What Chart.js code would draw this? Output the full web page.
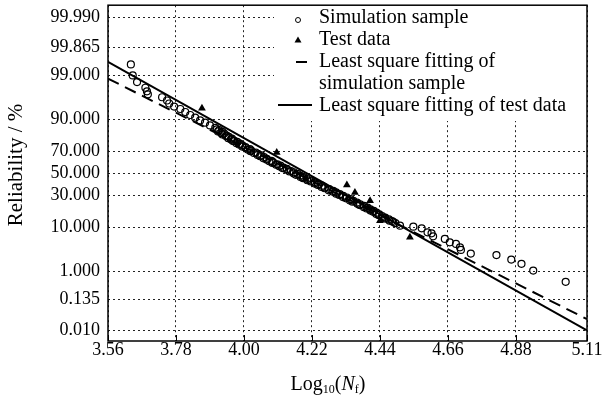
<!DOCTYPE html>
<html>
<head>
<meta charset="utf-8">
<script src="https://cdn.jsdelivr.net/npm/chart.js@4.4.1/dist/chart.umd.min.js"></script>
<style>
html, body { margin: 0; padding: 0; background: #fff; }
</style>
</head>
<body>
<canvas id="chart" width="603" height="405"></canvas>
<script>
// axis ticks
const xTicks = [3.56, 3.78, 4.00, 4.22, 4.44, 4.66, 4.88, 5.11];
const yTickLabels = ["99.990", "99.865", "99.000", "90.000", "70.000", "50.000", "30.000", "10.000", "1.000", "0.135", "0.010"];

// simulation sample: log10(Nf) and reliability as standard normal quantile (probability paper y)
const simLogN = [
    3.634, 3.640, 3.654, 3.681, 3.686, 3.689, 3.735, 3.751, 3.758, 3.774, 3.794, 3.810, 3.826, 3.842, 3.858, 3.874, 3.890, 3.907,
    3.912, 3.920, 3.916, 3.930, 3.926, 3.936, 3.930, 3.944, 3.941, 3.951,
    3.949, 3.961, 3.958, 3.968, 3.964, 3.978, 3.976, 3.987, 3.984, 3.995,
    3.994, 4.005, 4.005, 4.019, 4.012, 4.023, 4.021, 4.038, 4.032, 4.045,
    4.044, 4.056, 4.052, 4.065, 4.063, 4.074, 4.074, 4.089, 4.082, 4.094,
    4.092, 4.108, 4.104, 4.118, 4.114, 4.128, 4.124, 4.139, 4.138, 4.152,
    4.147, 4.161, 4.161, 4.173, 4.168, 4.182, 4.183, 4.194, 4.191, 4.204,
    4.205, 4.218, 4.216, 4.228, 4.229, 4.241, 4.239, 4.253, 4.251, 4.262,
    4.261, 4.276, 4.274, 4.289, 4.286, 4.298, 4.298, 4.310, 4.308, 4.321,
    4.320, 4.333, 4.330, 4.345, 4.343, 4.354, 4.351, 4.366, 4.367, 4.376,
    4.374, 4.389, 4.388, 4.400, 4.397, 4.409, 4.409, 4.420, 4.418, 4.429,
    4.428, 4.438, 4.436, 4.447, 4.448, 4.457, 4.457, 4.469, 4.471, 4.479,
    4.483, 4.490,
    4.505, 4.548, 4.575, 4.594, 4.607, 4.612, 4.650, 4.666, 4.686, 4.699, 4.702, 4.734, 4.817, 4.865, 4.898, 4.936, 5.041
];
const simZ = [
    2.592, 2.332, 2.173, 2.038, 1.953, 1.882, 1.813, 1.735, 1.664, 1.592, 1.533, 1.462, 1.391, 1.327, 1.261, 1.209, 1.142, 1.083,
    1.05, 1.03, 1.00, 0.99, 0.96, 0.95, 0.93, 0.90, 0.89, 0.87,
    0.84, 0.83, 0.81, 0.78, 0.77, 0.75, 0.72, 0.71, 0.69, 0.67,
    0.64, 0.63, 0.61, 0.58, 0.57, 0.55, 0.53, 0.50, 0.49, 0.47,
    0.44, 0.43, 0.41, 0.39, 0.36, 0.35, 0.33, 0.30, 0.29, 0.27,
    0.25, 0.22, 0.21, 0.19, 0.17, 0.14, 0.13, 0.11, 0.09, 0.06,
    0.05, 0.03, 0.00, -0.01, -0.03, -0.05, -0.08, -0.09, -0.11, -0.13,
    -0.16, -0.17, -0.19, -0.21, -0.24, -0.25, -0.27, -0.29, -0.32, -0.33,
    -0.35, -0.37, -0.40, -0.41, -0.43, -0.45, -0.48, -0.49, -0.51, -0.53,
    -0.56, -0.57, -0.59, -0.61, -0.64, -0.65, -0.67, -0.69, -0.72, -0.73,
    -0.75, -0.77, -0.80, -0.81, -0.83, -0.85, -0.88, -0.89, -0.91, -0.93,
    -0.96, -0.97, -0.99, -1.01, -1.04, -1.05, -1.07, -1.09, -1.12, -1.13,
    -1.15, -1.18,
    -1.239, -1.263, -1.303, -1.398, -1.422, -1.493, -1.555, -1.635, -1.673, -1.754, -1.815, -1.903, -1.938, -2.045, -2.147, -2.306, -2.573
];

// test data
const testLogN = [3.864, 3.978, 4.106, 4.200, 4.333, 4.359, 4.408, 4.440, 4.537];
const testZ = [1.552, 0.73, 0.498, -0.14, -0.275, -0.450, -0.647, -1.121, -1.517];

// least square fitting lines (end points)
const fitSimLogN = [3.56, 5.11];
const fitSimZ = [2.256, -3.46];
const fitTestLogN = [3.56, 5.11];
const fitTestZ = [2.654, -3.727];

// inverse standard normal cdf (Acklam)
function probit(p) {
    const a = [-3.969683028665376e+01, 2.209460984245205e+02, -2.759285104469687e+02, 1.383577518672690e+02, -3.066479806614716e+01, 2.506628277459239e+00];
    const b = [-5.447609879822406e+01, 1.615858368580409e+02, -1.556989798598866e+02, 6.680131188771972e+01, -1.328068155288572e+01];
    const c = [-7.784894002430293e-03, -3.223964580411365e-01, -2.400758277161838e+00, -2.549732539343734e+00, 4.374664141464968e+00, 2.938163982698783e+00];
    const d = [7.784695709041462e-03, 3.224671290700398e-01, 2.445134137142996e+00, 3.754408661907416e+00];
    const pl = 0.02425;
    let q, r;
    if (p < pl) {
        q = Math.sqrt(-2 * Math.log(p));
        return (((((c[0]*q+c[1])*q+c[2])*q+c[3])*q+c[4])*q+c[5]) / ((((d[0]*q+d[1])*q+d[2])*q+d[3])*q+1);
    }
    if (p > 1 - pl) {
        q = Math.sqrt(-2 * Math.log(1 - p));
        return -(((((c[0]*q+c[1])*q+c[2])*q+c[3])*q+c[4])*q+c[5]) / ((((d[0]*q+d[1])*q+d[2])*q+d[3])*q+1);
    }
    q = p - 0.5;
    r = q * q;
    return (((((a[0]*r+a[1])*r+a[2])*r+a[3])*r+a[4])*r+a[5])*q / (((((b[0]*r+b[1])*r+b[2])*r+b[3])*r+b[4])*r+1);
}

const yTicks = yTickLabels.map(l => ({ value: probit(parseFloat(l) / 100), label: l }));

function pairs(xs, ys) {
    return xs.map((x, i) => ({ x: x, y: ys[i] }));
}

const FONT = "'Liberation Serif', 'Times New Roman', serif";

const decorations = {
    id: "decorations",
    afterDraw(chart) {
        const ctx = chart.ctx;
        const a = chart.chartArea;
        const xs = chart.scales.x;
        ctx.save();

        // short inner ticks on the x axis
        ctx.strokeStyle = "#000";
        ctx.lineWidth = 1;
        xTicks.forEach(v => {
            const px = Math.round(xs.getPixelForValue(v)) + 0.5;
            ctx.beginPath();
            ctx.moveTo(px, a.bottom);
            ctx.lineTo(px, a.bottom - 6);
            ctx.stroke();
        });

        // legend box
        ctx.fillStyle = "#fff";
        ctx.fillRect(274, a.top, a.right - 274, 121 - a.top);
        ctx.fillStyle = "#000";
        ctx.strokeStyle = "#000";

        ctx.lineWidth = 1;
        ctx.beginPath();
        ctx.arc(298, 20, 2.5, 0, Math.PI * 2);
        ctx.stroke();

        ctx.beginPath();
        ctx.moveTo(298, 36.5);
        ctx.lineTo(301.5, 42.5);
        ctx.lineTo(294.5, 42.5);
        ctx.closePath();
        ctx.fill();

        ctx.lineWidth = 2;
        ctx.beginPath();
        ctx.moveTo(296, 62);
        ctx.lineTo(307, 62);
        ctx.stroke();

        ctx.beginPath();
        ctx.moveTo(278, 105);
        ctx.lineTo(312, 105);
        ctx.stroke();

        ctx.font = "20px " + FONT;
        ctx.textAlign = "left";
        ctx.textBaseline = "middle";
        ctx.fillText("Simulation sample", 319, 18);
        ctx.fillText("Test data", 319, 40);
        ctx.fillText("Least square fitting of", 319, 62);
        ctx.fillText("simulation sample", 319, 84);
        ctx.fillText("Least square fitting of test data", 319, 106);

        // frame
        ctx.lineWidth = 1.5;
        ctx.strokeRect(a.left, a.top, a.right - a.left, a.bottom - a.top);

        // y title
        ctx.save();
        ctx.translate(16.5, 165);
        ctx.rotate(-Math.PI / 2);
        ctx.font = "21px " + FONT;
        ctx.textAlign = "center";
        ctx.textBaseline = "middle";
        ctx.fillText("Reliability / %", 0, 0);
        ctx.restore();

        // x title with subscripts
        const parts = [
            { t: "Log", f: "20px " + FONT, dy: 0 },
            { t: "10", f: "12px " + FONT, dy: 3 },
            { t: "(", f: "20px " + FONT, dy: 0 },
            { t: "N", f: "italic 20px " + FONT, dy: 0 },
            { t: "f", f: "12px " + FONT, dy: 3 },
            { t: ")", f: "20px " + FONT, dy: 0 }
        ];
        let total = 0;
        parts.forEach(p => { ctx.font = p.f; p.w = ctx.measureText(p.t).width; total += p.w; });
        let x = 328 - total / 2;
        ctx.textAlign = "left";
        ctx.textBaseline = "alphabetic";
        parts.forEach(p => {
            ctx.font = p.f;
            ctx.fillText(p.t, x, 390 + p.dy);
            x += p.w;
        });

        ctx.restore();
    }
};

new Chart(document.getElementById("chart"), {
    type: "scatter",
    data: {
        datasets: [
            {
                label: "Simulation sample",
                data: pairs(simLogN, simZ),
                pointStyle: "circle",
                pointRadius: 3.5,
                pointBorderWidth: 1.2,
                pointBorderColor: "#000",
                pointBackgroundColor: "rgba(0,0,0,0)"
            },
            {
                label: "Test data",
                data: pairs(testLogN, testZ),
                pointStyle: "triangle",
                pointRadius: 4.5,
                pointBorderWidth: 0,
                pointBackgroundColor: "#000",
                pointBorderColor: "#000"
            },
            {
                label: "Least square fitting of simulation sample",
                data: pairs(fitSimLogN, fitSimZ),
                showLine: true,
                pointRadius: 0,
                borderColor: "#000",
                borderWidth: 2,
                borderDash: [12, 7]
            },
            {
                label: "Least square fitting of test data",
                data: pairs(fitTestLogN, fitTestZ),
                showLine: true,
                pointRadius: 0,
                borderColor: "#000",
                borderWidth: 2
            }
        ]
    },
    options: {
        responsive: false,
        animation: false,
        layout: { padding: { top: 4, right: 16, bottom: 0, left: 0 } },
        plugins: {
            legend: { display: false },
            tooltip: { enabled: false }
        },
        scales: {
            x: {
                type: "linear",
                min: 3.56,
                max: 5.11,
                afterBuildTicks: scale => { scale.ticks = xTicks.map(v => ({ value: v })); },
                afterFit: scale => {
                    scale.height = 64;
                    scale.paddingLeft = 0;
                    scale.paddingRight = 0;
                },
                ticks: {
                    autoSkip: false,
                    maxRotation: 0,
                    padding: 0,
                    color: "#000",
                    font: { family: FONT, size: 18, lineHeight: 1 },
                    callback: v => Number(v).toFixed(2)
                },
                grid: { color: "#222", lineWidth: 1, drawTicks: false },
                border: { display: false, dash: [2, 3] }
            },
            y: {
                type: "linear",
                min: -3.98,
                max: 4.0,
                afterBuildTicks: scale => { scale.ticks = yTicks.map(t => ({ value: t.value })); },
                afterFit: scale => {
                    scale.width = 108;
                    scale.paddingTop = 0;
                    scale.paddingBottom = 0;
                },
                ticks: {
                    autoSkip: false,
                    padding: 8,
                    color: "#000",
                    font: { family: FONT, size: 18 },
                    callback: (v, i) => yTicks[i].label
                },
                grid: { color: "#222", lineWidth: 1, drawTicks: false },
                border: { display: false, dash: [2, 3] }
            }
        }
    },
    plugins: [decorations]
});
</script>
</body>
</html>
